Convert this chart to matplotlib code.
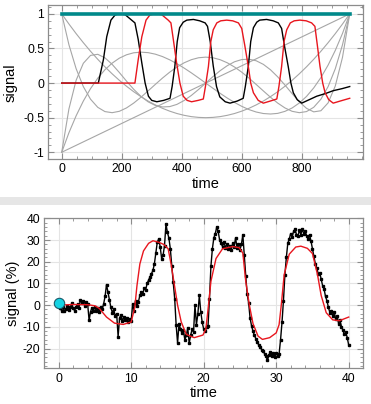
import numpy as np
import matplotlib
matplotlib.use("Agg")
import matplotlib.pyplot as plt
from matplotlib.ticker import MultipleLocator, FixedLocator, FuncFormatter
from matplotlib.patches import Rectangle

# ---- top panel: basis functions + two oscillator traces ----
basis_t = [0, 24, 48, 72, 96, 120, 144, 168, 192, 216, 240, 264, 288, 312, 336, 360, 384, 408, 432, 456,
           480, 504, 528, 552, 576, 600, 624, 648, 672, 696, 720, 744, 768, 792, 816, 840, 864, 888, 912, 936, 960]
line_t = [0, 960]
line_y = [-1.0, 1.0]
basis_2 = [1.0, 0.854, 0.715, 0.584, 0.46, 0.344, 0.235, 0.134, 0.04, -0.046, -0.125, -0.196, -0.26, -0.316,
           -0.365, -0.406, -0.44, -0.466, -0.485, -0.496, -0.5, -0.496, -0.485, -0.466, -0.44, -0.406, -0.365,
           -0.316, -0.26, -0.196, -0.125, -0.046, 0.04, 0.134, 0.235, 0.344, 0.46, 0.584, 0.715, 0.854, 1.0]
basis_3 = [-1.0, -0.718, -0.473, -0.26, -0.08, 0.07, 0.193, 0.288, 0.36, 0.409, 0.438, 0.447, 0.44, 0.418,
           0.383, 0.336, 0.28, 0.217, 0.148, 0.075, 0.0, -0.075, -0.148, -0.217, -0.28, -0.336, -0.383,
           -0.418, -0.44, -0.447, -0.438, -0.409, -0.36, -0.288, -0.193, -0.07, 0.08, 0.26, 0.473, 0.718, 1.0]
basis_4 = [1.0, 0.554, 0.208, -0.051, -0.233, -0.35, -0.412, -0.428, -0.408, -0.359, -0.289, -0.205, -0.113,
           -0.019, 0.073, 0.158, 0.232, 0.293, 0.338, 0.366, 0.375, 0.366, 0.338, 0.293, 0.232, 0.158, 0.073,
           -0.019, -0.113, -0.205, -0.289, -0.359, -0.408, -0.428, -0.412, -0.35, -0.233, -0.051, 0.208, 0.554, 1.0]
basis_5 = [-1.0, -0.373, 0.041, 0.286, 0.4, 0.416, 0.365, 0.271, 0.153, 0.028, -0.09, -0.192, -0.271, -0.323,
           -0.345, -0.34, -0.308, -0.252, -0.179, -0.093, 0.0, 0.093, 0.179, 0.252, 0.308, 0.34, 0.345, 0.323,
           0.271, 0.192, 0.09, -0.028, -0.153, -0.271, -0.365, -0.416, -0.4, -0.286, -0.041, 0.373, 1.0]
const_t = [0, 960]
const_y = [1, 1]

osc_a_t = [0, 122, 139, 150, 164, 178, 190, 211, 233, 244, 255, 267, 278, 289, 300, 317,
           340, 361, 368, 377, 385, 393, 405, 417, 439, 460, 478, 486, 495, 505, 516, 527,
           545, 561, 585, 605, 612, 622, 630, 639, 650, 660, 683, 705, 722, 733, 742, 755,
           764, 772, 785, 800, 825, 850, 880, 905, 935, 960]
osc_a_y = [0, 0, 0.34, 0.67, 0.91, 0.985, 1.0, 0.99, 0.91, 0.87, 0.63, 0.29, 0.0, -0.19, -0.25, -0.27,
           -0.25, -0.22, -0.05, 0.24, 0.6, 0.8, 0.88, 0.91, 0.92, 0.9, 0.87, 0.82, 0.6, 0.25, -0.05, -0.2,
           -0.27, -0.29, -0.26, -0.22, -0.05, 0.24, 0.6, 0.8, 0.88, 0.91, 0.92, 0.9, 0.87, 0.79, 0.55, 0.24,
           0.0, -0.14, -0.24, -0.29, -0.24, -0.19, -0.15, -0.11, -0.08, -0.05]

osc_b_t = [0, 244, 255, 267, 281, 294, 310, 333, 355, 364, 372, 383, 394, 405, 418, 433,
           455, 472, 479, 489, 497, 505, 517, 530, 550, 570, 589, 600, 610, 622, 630, 639,
           655, 672, 695, 717, 724, 733, 741, 750, 762, 775, 794, 815, 833, 844, 852, 861,
           870, 878, 890, 905, 928, 960]
osc_b_y = [0, 0, 0.34, 0.67, 0.91, 0.985, 1.0, 0.99, 0.91, 0.87, 0.63, 0.29, 0.0, -0.19, -0.25, -0.27,
           -0.25, -0.23, -0.05, 0.24, 0.6, 0.77, 0.87, 0.9, 0.91, 0.9, 0.87, 0.79, 0.55, 0.24, 0.0, -0.14,
           -0.25, -0.29, -0.26, -0.23, -0.05, 0.24, 0.6, 0.77, 0.87, 0.9, 0.91, 0.9, 0.87, 0.82, 0.55, 0.24,
           0.0, -0.14, -0.24, -0.29, -0.26, -0.22]

# ---- bottom panel: measured signal (every 0.2 time units) + model ----
meas_t = [round(0.2 * i, 1) for i in range(201)]
meas_y = [0.5, -1.5, -2.5, -1.0, -2.8, -1.8,
          -0.5, -2.2, -1.0, 0.8, -1.5,
          -2.5, -0.8, 0.5, -1.2, 2.5,
          1.0, 2.0, -0.5, 1.5, 0.5,
          -7.0, -3.0, -1.2, -2.5, -0.8,
          -2.8, -1.5, -3.0, -1.0, -2.0,
          0.5, 4.0, 9.5, 6.0, 2.5,
          -1.0, -3.5, -2.0, -5.0, -4.0,
          -14.5, -6.0, -4.5, -7.5, -5.5,
          -7.0, -6.0, -8.0, -6.5, -7.5,
          0.5, -2.5, 2.0, -0.5, 1.5,
          4.5, 6.0, 5.0, 8.0, 7.0,
          10.0, 11.5, 13.0, 14.5, 16.0,
          19.0, 24.0, 29.0, 30.5, 27.0,
          21.5, 23.0, 27.5, 37.5, 33.5,
          31.0, 26.0, 18.0, 10.5, 3.0,
          -9.0, -17.5, -8.5, -11.0, -13.0,
          -11.5, -16.0, -14.0, -10.5, -17.5,
          -14.0, -11.0, -12.5, 0.0, -9.0,
          -4.0, 4.5, -3.0, -8.0, -11.0,
          -12.0, -10.0, -9.5, 3.0, 18.0,
          26.0, 31.0, 33.0, 36.0, 34.0,
          30.0, 28.5, 27.0, 29.0, 26.5,
          28.0, 26.0, 27.5, 25.5, 28.5,
          27.0, 31.0, 26.5, 28.0, 25.5,
          28.0, 32.5, 23.0, 13.5, 5.0,
          1.0, -6.0, -9.5, -12.0, -14.0,
          -15.5, -17.0, -18.5, -19.5, -20.5,
          -21.0, -22.5, -23.5, -25.5, -23.0,
          -21.5, -23.5, -22.0, -24.0, -22.0,
          -23.5, -22.5, -16.0, -8.0, 2.0,
          14.0, 22.0, 28.5, 30.5, 33.0,
          31.5, 34.0, 35.0, 32.5, 32.0,
          34.5, 32.5, 35.0, 33.0, 34.0,
          32.0, 30.5, 32.5, 29.5, 26.0,
          22.5, 19.0, 17.0, 14.5, 15.0,
          12.0, 9.0, 7.5, 4.0, 2.0,
          -1.0, -3.5, -2.5, -5.0, -3.0,
          -6.5, -5.0, -8.5, -7.0, -10.0,
          -11.5, -13.5, -12.5, -15.0, -18.5]

model_t = [0, 2, 4, 5, 5.6, 6.6, 7.7, 8.9, 10.0, 10.5, 10.8, 11.2, 11.7, 12.4, 13.0, 13.8,
           14.5, 15.1, 15.5, 16.0, 16.4, 16.9, 17.6, 18.7, 19.9, 20.3, 20.6, 21.0, 21.7, 22.6,
           24.0, 24.9, 25.4, 25.8, 26.3, 26.8, 27.5, 28.1, 29.1, 30.0, 30.4, 30.7, 31.1, 31.8,
           32.7, 33.4, 34.3, 35.0, 35.7, 36.2, 36.9, 37.8, 38.7, 40.0]
model_y = [0, 0.3, 0.2, -0.3, -1.5, -5.5, -8.3, -8.9, -7.8, -1.0, 9.0, 19.0, 25.0, 28.5, 29.7, 29.0,
           28.0, 26.0, 19.0, 8.5, 0.0, -7.7, -13.5, -15.0, -13.8, -11.0, -2.0, 11.0, 21.5, 26.0,
           27.0, 26.5, 24.0, 11.0, 0.0, -8.5, -14.3, -15.8, -15.0, -12.8, -9.0, 0.0, 14.0, 23.5,
           26.8, 27.2, 26.2, 23.8, 14.0, 4.5, -3.5, -6.8, -7.2, -5.5]
start_t = [0]
start_y = [0.8]

plt.rcParams['font.family'] = ['Liberation Sans', 'DejaVu Sans']
plt.rcParams['axes.unicode_minus'] = False

fig = plt.figure(figsize=(3.71, 4.04), dpi=100)

# light separator band between the two panels
fig.patches.append(Rectangle((0, 0.4926), 1, 0.0198, transform=fig.transFigure,
                             facecolor='#e6e6e6', edgecolor='none', zorder=0))

ax1 = fig.add_axes([0.130, 0.606, 0.849, 0.381])
ax2 = fig.add_axes([0.119, 0.088, 0.860, 0.373])

frame = '#8c8c8c'
grid = '#e4e4e4'
red = '#e8161e'


def style(ax):
    for sp in ax.spines.values():
        sp.set_color(frame)
        sp.set_linewidth(0.9)
    ax.tick_params(which='both', direction='in', top=True, right=True,
                   color=frame, labelsize=8.8, pad=3)
    ax.tick_params(which='major', length=4, width=0.8)
    ax.tick_params(which='minor', length=2, width=0.6)
    ax.grid(True, which='major', color=grid, lw=0.8, zorder=0)
    ax.set_axisbelow(True)


# top panel
ax1.plot(line_t, line_y, color='#a6a6a6', lw=0.8, zorder=2)
for by in [basis_2, basis_3, basis_4, basis_5]:
    ax1.plot(basis_t, by, color='#a6a6a6', lw=0.8, zorder=2)
ax1.plot(osc_a_t, osc_a_y, color='black', lw=1.0, zorder=3)
ax1.plot(osc_b_t, osc_b_y, color=red, lw=1.0, zorder=4)
ax1.plot(const_t, const_y, color='#00898a', lw=2.6, zorder=5)
ax1.set_xlim(-45, 1005)
ax1.set_ylim(-1.1, 1.125)
ax1.xaxis.set_major_locator(FixedLocator([0, 200, 400, 600, 800]))
ax1.xaxis.set_minor_locator(MultipleLocator(50))
ax1.yaxis.set_major_locator(MultipleLocator(0.5))
ax1.yaxis.set_minor_locator(MultipleLocator(0.1))
ax1.yaxis.set_major_formatter(FuncFormatter(lambda v, p: '%g' % v))
ax1.set_xlabel('time', fontsize=10.5, labelpad=1)
ax1.set_ylabel('signal', fontsize=10.5, labelpad=4)
style(ax1)

# bottom panel
ax2.plot(meas_t, meas_y, color='black', lw=1.0, marker='s', ms=1.9, zorder=3)
ax2.plot(model_t, model_y, color=red, lw=1.0, zorder=4)
ax2.plot(start_t, start_y, 'o', ms=7.5, mfc='#16d3e3', mec='#1a5a6a', mew=0.8, zorder=5)
ax2.set_xlim(-2, 42)
ax2.set_ylim(-29.2, 40.3)
ax2.xaxis.set_major_locator(MultipleLocator(10))
ax2.xaxis.set_minor_locator(MultipleLocator(2))
ax2.yaxis.set_major_locator(MultipleLocator(10))
ax2.yaxis.set_minor_locator(MultipleLocator(2))
ax2.set_xlabel('time', fontsize=10.5, labelpad=1)
ax2.set_ylabel('signal (%)', fontsize=10.5, labelpad=2)
style(ax2)

fig.savefig('out.png', dpi=100)
